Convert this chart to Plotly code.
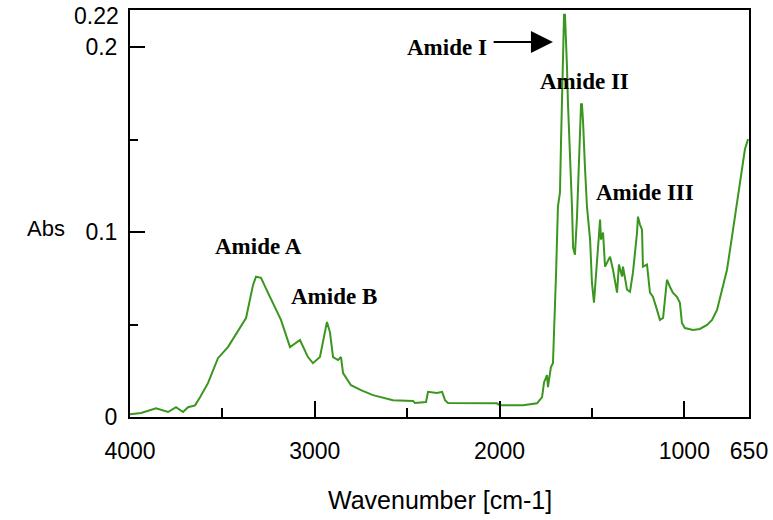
import plotly.graph_objects as go

# FTIR spectrum, values
wavenumber = [
    4000, 3940, 3859, 3794, 3751, 3713, 3686, 3648, 3621, 3578,
    3524, 3470, 3372, 3334, 3318, 3291, 3253, 3183, 3134, 3080,
    3037, 3010, 2972, 2945, 2934, 2918, 2901, 2874, 2858, 2847,
    2804, 2750, 2685, 2577, 2468, 2458, 2398, 2387, 2339, 2311,
    2295, 2279, 2014, 1998, 1873, 1797, 1770, 1759, 1743, 1738,
    1722, 1711, 1705, 1694, 1684, 1673, 1667, 1662, 1657, 1651,
    1646, 1640, 1635, 1630, 1619, 1608, 1602, 1592, 1581, 1570,
    1559, 1554, 1548, 1538, 1527, 1510, 1500, 1489, 1483, 1467,
    1456, 1451, 1440, 1429, 1402, 1386, 1364, 1354, 1337, 1332,
    1310, 1294, 1278, 1256, 1251, 1240, 1229, 1224, 1202, 1186,
    1170, 1148, 1132, 1115, 1094, 1078, 1062, 1040, 1024, 1013,
    997, 953, 916, 877, 850, 823, 796, 769, 742, 715,
    688, 672, 655,
]
absorbance = [
    0.0015, 0.0022, 0.0047, 0.0027, 0.0053, 0.0027, 0.0053, 0.0063, 0.0107, 0.0183,
    0.0318, 0.0378, 0.0535, 0.0714, 0.0758, 0.0752, 0.0671, 0.0525, 0.0378, 0.0416,
    0.0324, 0.0291, 0.0324, 0.0454, 0.0514, 0.0459, 0.0324, 0.0308, 0.0324, 0.0237,
    0.0172, 0.0145, 0.0118, 0.0091, 0.0087, 0.0076, 0.0081, 0.0136, 0.0130, 0.0136,
    0.0091, 0.0076, 0.0074, 0.0063, 0.0063, 0.0074, 0.0107, 0.0188, 0.0226, 0.0161,
    0.0270, 0.0291, 0.0514, 0.0780, 0.1138, 0.1214, 0.1502, 0.1708, 0.1952, 0.2174,
    0.2174, 0.2044, 0.1892, 0.1702, 0.1447, 0.1138, 0.0916, 0.0877, 0.1078, 0.1393,
    0.1691, 0.1691, 0.1594, 0.1355, 0.1138, 0.0959, 0.0726, 0.0618, 0.0705, 0.0922,
    0.1067, 0.0959, 0.0997, 0.0813, 0.0867, 0.0796, 0.0672, 0.0824, 0.0759, 0.0813,
    0.0688, 0.0677, 0.0780, 0.0997, 0.1083, 0.1040, 0.1013, 0.0813, 0.0824, 0.0672,
    0.0650, 0.0579, 0.0525, 0.0536, 0.0742, 0.0704, 0.0672, 0.0650, 0.0617, 0.0508,
    0.0481, 0.0470, 0.0476, 0.0498, 0.0525, 0.0579, 0.0688, 0.0796, 0.0975, 0.1160,
    0.1322, 0.1447, 0.1502,
]

x_ticks = [4000, 3000, 2000, 1000, 650]
x_minor = [3500, 2500, 1500]
y_ticks = [0, 0.1, 0.2]
y_tick_text = ["0", "0.1", "0.2"]
y_minor = [0.05, 0.15]
y_max = 0.22

band_labels = ["Amide A", "Amide B", "Amide II", "Amide III"]
band_x = [3307, 2896, 1538, 1213]
band_y = [0.092, 0.065, 0.1816, 0.1213]

fig = go.Figure()

fig.add_trace(go.Scatter(
    x=wavenumber,
    y=absorbance,
    mode="lines",
    line=dict(color="#3a961e", width=2),
    showlegend=False,
))

label_font = dict(family="Liberation Serif", size=23, color="black")
tick_font = dict(family="Liberation Sans", size=23, color="black")

for text, bx, by in zip(band_labels, band_x, band_y):
    fig.add_annotation(x=bx, y=by, text="<b>%s</b>" % text, showarrow=False,
                       font=label_font, xanchor="center", yanchor="middle")

# Amide I with its arrow
fig.add_annotation(x=2284, y=0.2, text="<b>Amide I</b>", showarrow=False,
                   font=label_font, xanchor="center", yanchor="middle")
fig.add_annotation(x=1711, y=0.2027, ax=2040, ay=0.2027, axref="x", ayref="y",
                   text="", showarrow=True, arrowhead=2, arrowsize=2.2,
                   arrowwidth=2, arrowcolor="black", standoff=0)

# top-of-axis label (plotly drops the tick sitting on the range edge)
fig.add_annotation(x=-0.015, y=0.985, xref="paper", yref="paper", text=str(y_max),
                   xanchor="right", yanchor="middle", showarrow=False, font=tick_font)

# axis titles
fig.add_annotation(x=-0.136, y=0.464, xref="paper", yref="paper", text="Abs",
                   xanchor="center", yanchor="middle", showarrow=False,
                   font=dict(family="Liberation Sans", size=22, color="black"))
fig.add_annotation(x=0.5, y=-0.204, xref="paper", yref="paper", text="Wavenumber [cm-1]",
                   xanchor="center", yanchor="middle", showarrow=False,
                   font=dict(family="Liberation Sans", size=25, color="black"))

fig.update_xaxes(
    range=[4000, 650],
    tickvals=x_ticks,
    ticks="inside", ticklen=16, tickwidth=2, tickcolor="black",
    minor=dict(tickvals=x_minor, ticks="inside", ticklen=9, tickwidth=2, tickcolor="black"),
    showline=True, linecolor="black", linewidth=2, mirror=True,
    showgrid=False, zeroline=False, automargin=False,
    tickfont=tick_font,
    ticklabelstandoff=12,
)
fig.update_yaxes(
    range=[0, y_max],
    tickvals=y_ticks, ticktext=y_tick_text,
    ticks="inside", ticklen=15, tickwidth=2, tickcolor="black",
    minor=dict(tickvals=y_minor, ticks="inside", ticklen=8, tickwidth=2, tickcolor="black"),
    showline=True, linecolor="black", linewidth=2, mirror=True,
    showgrid=False, zeroline=False, automargin=False,
    tickfont=tick_font,
    ticklabelstandoff=6,
)

fig.update_layout(
    width=773, height=520,
    margin=dict(l=130, r=24, t=10, b=103),
    plot_bgcolor="white", paper_bgcolor="white",
)

# drop the default page margin so the chart sits at the window's corner
fig.write_html("out.html", config={"displayModeBar": False},
               post_script="document.body.style.margin='0';")
